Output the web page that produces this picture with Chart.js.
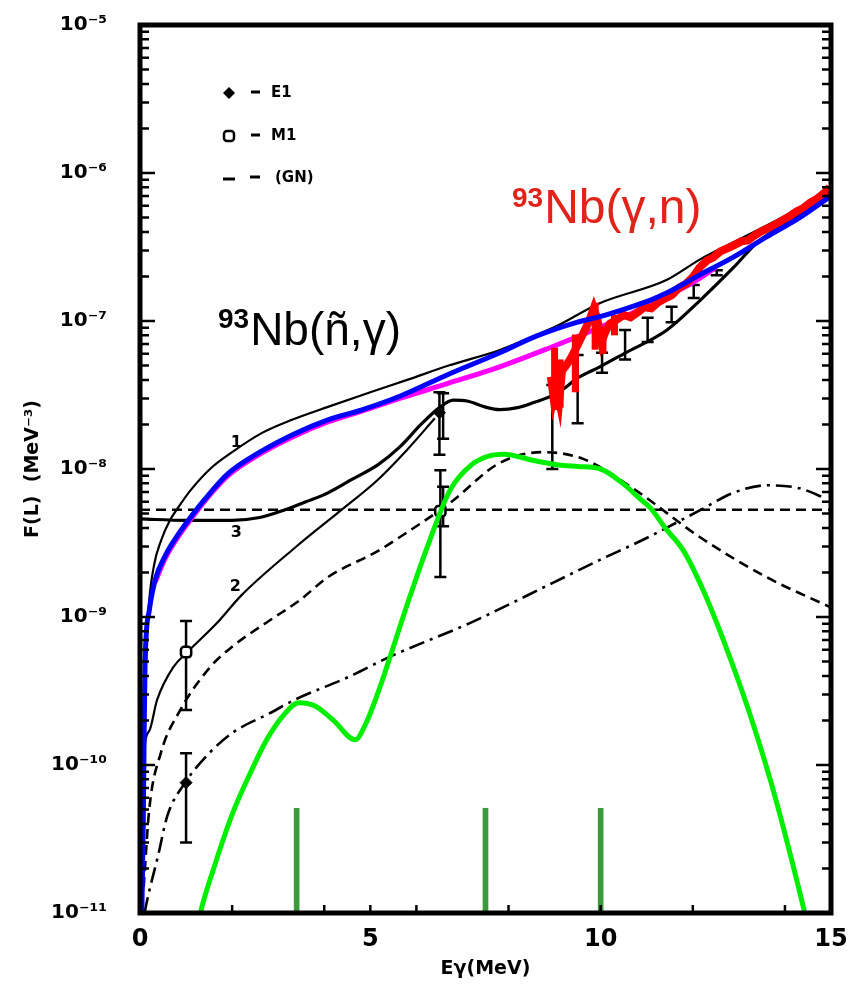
<!DOCTYPE html>
<html>
<head>
<meta charset="utf-8">
<script src="https://cdn.jsdelivr.net/npm/chart.js@4.4.1/dist/chart.umd.min.js"></script>
<style>
html,body{margin:0;padding:0;background:#fff;}
#wrap{width:852px;height:984px;}
</style>
</head>
<body>
<div id="wrap"><canvas id="c" width="852" height="984"></canvas></div>
<script>
// ---------- DATA (x = Eγ in MeV, y = F(L) in MeV^-3) ----------
const xTickLabels = [0, 5, 10, 15];
const xMinorTicks = [2, 4, 5, 6, 8, 10, 12, 14];
const yDecades = [1e-11, 1e-10, 1e-9, 1e-8, 1e-7, 1e-6, 1e-5];

const curve1 = [[0.03,1e-11],[0.07,1e-10],[0.12,4e-10],[0.18,1.07e-9],[0.3,2.2e-9],[0.46,3.3e-9],[0.65,4.5e-9],[0.83,5.5e-9],[1.1,7.2e-9],[1.55,1.02e-8],[2.0,1.3e-8],[2.63,1.74e-8],[3.3,2.15e-8],[4.08,2.63e-8],[5.0,3.3e-8],[5.8,4.0e-8],[6.7,5.0e-8],[7.81,6.37e-8],[9.0,9.1e-8],[9.98,1.32e-7],[11.44,1.9e-7],[12.15,2.6e-7],[12.88,3.4e-7],[13.4,4.1e-7],[14.2,5.5e-7],[14.97,7.3e-7]];

const curve2 = [[0.04,1e-11],[0.07,9.8e-11],[0.2,1.7e-10],[0.37,2.75e-10],[0.72,4.57e-10],[1.02,5.75e-10],[1.67,9.1e-10],[2.2,1.4e-9],[3.37,2.95e-9],[4.36,5.25e-9],[5.17,8.5e-9],[5.8,1.35e-8],[6.4,2.2e-8]];

const curve3 = [[0.0,4.6e-9],[1.0,4.5e-9],[2.0,4.5e-9],[2.6,4.7e-9],[3.15,5.3e-9],[3.6,6.0e-9],[4.08,6.9e-9],[4.6,8.5e-9],[5.17,1.07e-8],[5.64,1.41e-8],[6.1,2.0e-8],[6.5,2.6e-8],[6.8,2.92e-8],[7.1,2.88e-8],[7.5,2.62e-8],[7.81,2.52e-8],[8.2,2.6e-8],[8.53,2.8e-8],[9.05,3.24e-8],[9.53,4.17e-8],[9.98,4.9e-8],[10.5,6.0e-8],[11.44,8.7e-8],[12.16,1.38e-7],[12.88,2.29e-7],[13.4,3.39e-7],[14.2,4.9e-7],[14.97,6.9e-7]];

const blueCurve = [[0.04,1e-11],[0.07,4e-11],[0.09,1.6e-10],[0.11,4.9e-10],[0.2,1.1e-9],[0.33,1.78e-9],[0.55,2.6e-9],[0.8,3.5e-9],[1.05,4.5e-9],[1.4,6.2e-9],[1.91,9.3e-9],[2.6,1.3e-8],[3.37,1.74e-8],[4.08,2.15e-8],[4.8,2.5e-8],[5.64,3.1e-8],[6.7,4.37e-8],[7.81,6.1e-8],[8.6,7.9e-8],[9.48,9.8e-8],[9.98,1.07e-7],[10.5,1.2e-7],[11.07,1.38e-7],[11.44,1.55e-7],[12.15,2.05e-7],[12.88,2.7e-7],[13.6,3.7e-7],[14.32,5.0e-7],[14.97,6.9e-7]];

const magentaCurve = [[0.33,1.72e-9],[0.55,2.5e-9],[1.05,4.35e-9],[1.91,9.0e-9],[2.6,1.26e-8],[3.37,1.68e-8],[4.08,2.08e-8],[4.8,2.45e-8],[5.64,3.0e-8],[6.7,3.8e-8],[7.81,4.9e-8],[8.9,6.6e-8],[10.0,9.1e-8],[11.0,1.26e-7],[12.0,1.82e-7],[12.5,2.3e-7]];

const dashedCurve = [[0.08,1.5e-11],[0.2,5e-11],[0.45,1.2e-10],[0.87,2.34e-10],[1.5,4.5e-10],[2.0,6.3e-10],[2.82,9.5e-10],[3.47,1.3e-9],[4.08,1.86e-9],[5.17,2.8e-9],[5.6,3.4e-9],[6.73,5.9e-9],[7.81,1.1e-8],[8.75,1.3e-8],[9.62,1.17e-8],[10.7,7.4e-9],[12.15,3.47e-9],[13.6,1.86e-9],[14.97,1.17e-9]];

const flatDashed = [[0,5.3e-9],[15,5.3e-9]];

const dashDotCurve = [[0.1,1e-11],[0.15,1.2e-11],[0.4,2.5e-11],[0.59,4.5e-11],[0.98,7.6e-11],[1.5,1.2e-10],[2.02,1.66e-10],[2.82,2.24e-10],[3.4,2.8e-10],[4.5,3.9e-10],[5.43,5.4e-10],[7.16,9.1e-10],[8.96,1.7e-9],[9.98,2.43e-9],[10.9,3.3e-9],[12.15,5.25e-9],[12.88,6.9e-9],[13.6,7.76e-9],[14.32,7.4e-9],[14.9,6.3e-9]];

const greenCurve = [[1.25,8e-12],[1.31,1e-11],[1.6,2e-11],[2.02,4.8e-11],[2.4,8.9e-11],[2.75,1.48e-10],[3.1,2.14e-10],[3.45,2.63e-10],[3.8,2.5e-10],[4.2,2.0e-10],[4.67,1.48e-10],[4.9,1.9e-10],[5.2,3.3e-10],[5.43,5.4e-10],[5.86,1.38e-9],[6.29,3.3e-9],[6.73,7.2e-9],[7.2,1.07e-8],[7.6,1.23e-8],[7.9,1.26e-8],[8.5,1.15e-8],[9.05,1.07e-8],[9.5,1.04e-8],[10.0,1.0e-8],[10.5,7.9e-9],[10.85,6.3e-9],[11.07,5.5e-9],[11.4,4.0e-9],[11.8,2.8e-9],[12.2,1.58e-9],[12.67,6.9e-10],[13.2,2.4e-10],[13.7,7.6e-11],[14.1,2.6e-11],[14.43,1e-11],[14.5,8e-12]];

const stickE = [3.4, 7.5, 10.0];
const stickTop = [5.1e-11, 5.1e-11, 5.1e-11];

const redData = [[8.92,4.2e-8],[8.98,3.0e-8],[9.04,3.6e-8],[9.1,2.9e-8],[9.16,4.6e-8],[9.25,5.0e-8],[9.35,5.6e-8],[9.45,6.4e-8],[9.55,7.4e-8],[9.65,8.6e-8],[9.75,1.0e-7],[9.85,1.22e-7],[9.92,1.05e-7],[10.02,7.2e-8],[10.1,8.4e-8],[10.2,9.6e-8],[10.35,1.02e-7],[10.5,1.1e-7],[10.65,1.06e-7],[10.8,1.14e-7],[10.95,1.24e-7],[11.1,1.22e-7],[11.25,1.34e-7],[11.4,1.42e-7],[11.55,1.5e-7],[11.7,1.68e-7],[11.85,1.78e-7],[12.0,1.98e-7],[12.15,2.3e-7],[12.3,2.55e-7],[12.45,2.7e-7],[12.6,2.95e-7],[12.75,3.1e-7],[12.9,3.25e-7],[13.05,3.45e-7],[13.2,3.5e-7],[13.35,3.8e-7],[13.5,4.05e-7],[13.65,4.25e-7],[13.8,4.5e-7],[13.95,4.8e-7],[14.1,5.1e-7],[14.25,5.5e-7],[14.4,5.8e-7],[14.55,6.3e-7],[14.7,6.7e-7],[14.85,7.3e-7],[14.97,8.0e-7]];
const redErrE  = [9.0, 9.12, 9.45, 9.88, 10.05, 10.3];
const redErrLo = [2.5e-8, 2.6e-8, 3.3e-8, 6.4e-8, 6.0e-8, 8.0e-8];
const redErrHi = [6.6e-8, 5.5e-8, 8.1e-8, 1.33e-7, 9.0e-8, 1.1e-7];

// experimental points with error bars
const e1E  = [1.0, 6.5];
const e1F  = [7.6e-11, 2.4e-8];
const e1Lo = [3.0e-11, 1.25e-8];
const e1Hi = [1.2e-10, 3.3e-8];

const m1E  = [1.0, 6.52];
const m1F  = [5.8e-10, 5.2e-9];
const m1Lo = [2.35e-10, 1.86e-9];
const m1Hi = [9.4e-10, 9.8e-9];

const barE  = [6.58, 6.58, 8.95, 9.5, 10.03, 10.53, 11.02, 11.54, 12.02, 12.52];
const barF  = [2.5e-8, 5.2e-9, 2.4e-8, 3.5e-8, 5.2e-8, 6.9e-8, 8.7e-8, 1.1e-7, 1.58e-7, 2.1e-7];
const barLo = [1.6e-8, 4.1e-9, 1.0e-8, 2.04e-8, 4.47e-8, 5.5e-8, 7.2e-8, 9.8e-8, 1.43e-7, 2.04e-7];
const barHi = [3.25e-8, 7.6e-9, 3.7e-8, 5.9e-8, 6.1e-8, 8.7e-8, 1.05e-7, 1.25e-7, 1.75e-7, 2.2e-7];

// ---------- helpers ----------
const pts = arr => arr.map(p => ({x: p[0], y: p[1]}));
const zipPts = (xs, ys) => xs.map((x, i) => ({x, y: ys[i]}));
const SUP = {'-':'\u207B','0':'\u2070','1':'\u00B9','2':'\u00B2','3':'\u00B3','4':'\u2074','5':'\u2075','6':'\u2076','7':'\u2077','8':'\u2078','9':'\u2079'};
const powLabel = v => '10' + String(Math.round(Math.log10(v))).split('').map(c => SUP[c]).join('');

function lineDs(label, data, color, width, dash, order, extra) {
  return Object.assign({
    type: 'line', label, data: pts(data), borderColor: color, backgroundColor: color,
    borderWidth: width, borderDash: dash || [], pointRadius: 0, fill: false,
    cubicInterpolationMode: 'monotone', order
  }, extra || {});
}

// ---------- plugins ----------
const errorBars = {
  id: 'errorBars',
  beforeDatasetDraw(chart, args) {
    const ds = chart.data.datasets[args.index];
    if (!ds.errLo) return;
    const {ctx, chartArea: a, scales: {x, y}} = chart;
    ctx.save();
    ctx.beginPath(); ctx.rect(a.left, a.top, a.right - a.left, a.bottom - a.top); ctx.clip();
    ctx.strokeStyle = ds.errColor; ctx.lineWidth = ds.errWidth; ctx.lineCap = 'butt';
    ds.errLo.forEach((lo, i) => {
      const px = x.getPixelForValue(ds.data[i].x);
      const pLo = y.getPixelForValue(lo), pHi = y.getPixelForValue(ds.errHi[i]);
      ctx.beginPath(); ctx.moveTo(px, pLo); ctx.lineTo(px, pHi); ctx.stroke();
      if (ds.capHalf) {
        ctx.beginPath();
        ctx.moveTo(px - ds.capHalf, pLo); ctx.lineTo(px + ds.capHalf, pLo);
        ctx.moveTo(px - ds.capHalf, pHi); ctx.lineTo(px + ds.capHalf, pHi);
        ctx.stroke();
      }
    });
    ctx.restore();
  }
};

const frameAndTicks = {
  id: 'frameAndTicks',
  afterDraw(chart) {
    const {ctx, chartArea: a, scales: {x, y}} = chart;
    ctx.save();
    ctx.strokeStyle = '#000';
    ctx.lineWidth = 2.5;
    for (let e = -11; e < -5; e++) {
      for (let k = 1; k < 10; k++) {
        const py = y.getPixelForValue(k * Math.pow(10, e));
        const len = k === 1 ? 15 : 9;
        ctx.beginPath();
        ctx.moveTo(a.left, py); ctx.lineTo(a.left + len, py);
        ctx.moveTo(a.right, py); ctx.lineTo(a.right - len, py);
        ctx.stroke();
      }
    }
    xMinorTicks.forEach(v => {
      const px = x.getPixelForValue(v);
      ctx.beginPath(); ctx.moveTo(px, a.bottom); ctx.lineTo(px, a.bottom - 8); ctx.stroke();
    });
    ctx.lineWidth = 5;
    ctx.strokeRect(a.left, a.top, a.right - a.left, a.bottom - a.top);
    ctx.restore();
  }
};

const annotations = {
  id: 'annotations',
  afterDatasetsDraw(chart) {
    const {ctx, chartArea: a, scales: {x, y}} = chart;
    ctx.save();
    ctx.fillStyle = '#000';
    ctx.strokeStyle = '#000';
    // legend box (upper left)
    const L = a.left, T = a.top;
    ctx.font = 'bold 15px "DejaVu Sans"';
    ctx.textBaseline = 'middle';
    // E1 row
    ctx.beginPath();
    ctx.moveTo(L + 89, T + 62); ctx.lineTo(L + 95, T + 68); ctx.lineTo(L + 89, T + 74); ctx.lineTo(L + 83, T + 68); ctx.closePath(); ctx.fill();
    ctx.lineWidth = 3;
    ctx.beginPath(); ctx.moveTo(L + 111, T + 67); ctx.lineTo(L + 120, T + 67); ctx.stroke();
    ctx.fillText('E1', L + 131, T + 68);
    // M1 row
    ctx.lineWidth = 2.5;
    ctx.beginPath(); ctx.roundRect(L + 84, T + 106, 10, 10, 3); ctx.stroke();
    ctx.lineWidth = 3;
    ctx.beginPath(); ctx.moveTo(L + 111, T + 110); ctx.lineTo(L + 120, T + 110); ctx.stroke();
    ctx.fillText('M1', L + 131, T + 111);
    // GN row
    ctx.beginPath(); ctx.moveTo(L + 83, T + 154); ctx.lineTo(L + 95, T + 154); ctx.stroke();
    ctx.beginPath(); ctx.moveTo(L + 110, T + 152); ctx.lineTo(L + 120, T + 152); ctx.stroke();
    ctx.fillText('(GN)', L + 135, T + 153);

    // curve numbers
    ctx.font = 'bold 16px "DejaVu Sans"';
    ctx.textAlign = 'center';
    ctx.fillText('1', x.getPixelForValue(2.09), y.getPixelForValue(1.5e-8));
    ctx.fillText('3', x.getPixelForValue(2.09), y.getPixelForValue(3.7e-9));
    ctx.fillText('2', x.getPixelForValue(2.07), y.getPixelForValue(1.6e-9));

    // reaction labels
    ctx.textAlign = 'left';
    ctx.textBaseline = 'alphabetic';
    ctx.fillStyle = '#000';
    ctx.font = 'bold 28px "Liberation Sans", Arial, sans-serif';
    ctx.fillText('93', L + 78, T + 303);
    let w = ctx.measureText('93').width;
    ctx.font = '46px "Liberation Sans", Arial, sans-serif';
    ctx.fillText('Nb(\u00F1,\u03B3)', L + 78 + w + 1, T + 320);

    ctx.fillStyle = '#e2231a';
    ctx.font = 'bold 28px "Liberation Sans", Arial, sans-serif';
    ctx.fillText('93', L + 372, T + 182);
    w = ctx.measureText('93').width;
    ctx.font = '48px "Liberation Sans", Arial, sans-serif';
    ctx.fillText('Nb(\u03B3,n)', L + 372 + w + 1, T + 198);
    ctx.restore();
  }
};

// ---------- chart ----------
const datasets = [
  lineDs('green model', greenCurve, '#00ee00', 5, null, 1),
  lineDs('blue model', blueCurve, '#0000ff', 5, null, 2),
  lineDs('93Nb(γ,n) data', redData, '#ff0000', 8, null, 3, {cubicInterpolationMode: 'default', tension: 0}),
  {type: 'line', label: 'γ,n errors', data: zipPts(redErrE, redErrLo.map((v, i) => Math.sqrt(v * redErrHi[i]))),
   showLine: false, pointRadius: 0, errLo: redErrLo, errHi: redErrHi, errColor: '#ff0000', errWidth: 7, capHalf: 0, order: 3},
  lineDs('magenta model', magentaCurve, '#ff00ff', 5, null, 4),
  {type: 'line', label: 'E1', data: zipPts(e1E, e1F), showLine: false, pointStyle: 'rectRot', pointRadius: 6,
   pointBackgroundColor: '#000', pointBorderColor: '#000', errLo: e1Lo, errHi: e1Hi, errColor: '#000', errWidth: 2.5, capHalf: 6, order: 5},
  {type: 'line', label: 'M1', data: zipPts(m1E, m1F), showLine: false, pointStyle: 'rectRounded', pointRadius: 6,
   pointBackgroundColor: '#fff', pointBorderColor: '#000', pointBorderWidth: 2.5, errLo: m1Lo, errHi: m1Hi, errColor: '#000', errWidth: 2.5, capHalf: 6, order: 5},
  {type: 'line', label: 'other points', data: zipPts(barE, barF), showLine: false, pointRadius: 0,
   errLo: barLo, errHi: barHi, errColor: '#000', errWidth: 2.5, capHalf: 6, order: 5},
  lineDs('curve 1', curve1, '#000', 2.2, null, 6),
  lineDs('curve 2', curve2, '#000', 2.2, null, 6),
  lineDs('curve 3', curve3, '#000', 3.2, null, 6),
  lineDs('dashed', dashedCurve, '#000', 2.6, [10, 6], 7),
  lineDs('(GN)', flatDashed, '#000', 2.6, [10, 6], 7, {cubicInterpolationMode: 'default', tension: 0}),
  lineDs('dash-dot', dashDotCurve, '#000', 2.6, [16, 6, 3, 6], 7),
  {type: 'bar', label: 'levels', data: stickE.map((e, i) => ({x: e, y: [1e-11, stickTop[i]]})),
   backgroundColor: '#3b9b3b', borderWidth: 0, barThickness: 5, grouped: false, order: 8}
];

new Chart(document.getElementById('c'), {
  type: 'line',
  data: {datasets},
  options: {
    responsive: false,
    animation: false,
    events: [],
    layout: {padding: {left: 0, right: 21, top: 25, bottom: 0}},
    plugins: {legend: {display: false}, tooltip: {enabled: false}},
    scales: {
      x: {
        type: 'linear', min: 0, max: 15, position: 'bottom', offset: false,
        afterBuildTicks: s => { s.ticks = xTickLabels.map(v => ({value: v})); },
        ticks: {color: '#000', font: {family: 'DejaVu Sans', size: 24, weight: 'bold'}, padding: 12, maxRotation: 0,
                callback: v => String(v)},
        grid: {display: false, drawTicks: false, offset: false},
        border: {display: false},
        title: {display: true, text: 'E\u03B3(MeV)', color: '#000',
                font: {family: 'DejaVu Sans', size: 19, weight: 'bold'}, padding: {top: 0, bottom: 4}},
        afterFit: s => { s.height = 71; s.paddingLeft = 0; s.paddingRight = 0; }
      },
      y: {
        type: 'logarithmic', min: 1e-11, max: 1e-5, position: 'left',
        afterBuildTicks: s => { s.ticks = yDecades.map(v => ({value: v})); },
        ticks: {color: '#000', font: {family: 'DejaVu Sans', size: 20, weight: 'bold'}, padding: 33,
                callback: v => powLabel(v), autoSkip: false},
        grid: {display: false, drawTicks: false},
        border: {display: false},
        title: {display: true, text: 'F(L)  (MeV\u207B\u00B3)', color: '#000',
                font: {family: 'DejaVu Sans', size: 19, weight: 'bold'}, padding: {top: 22, bottom: 0}},
        afterFit: s => { s.width = 140; s.paddingTop = 0; s.paddingBottom = 0; }
      }
    }
  },
  plugins: [errorBars, annotations, frameAndTicks]
});
</script>
</body>
</html>
